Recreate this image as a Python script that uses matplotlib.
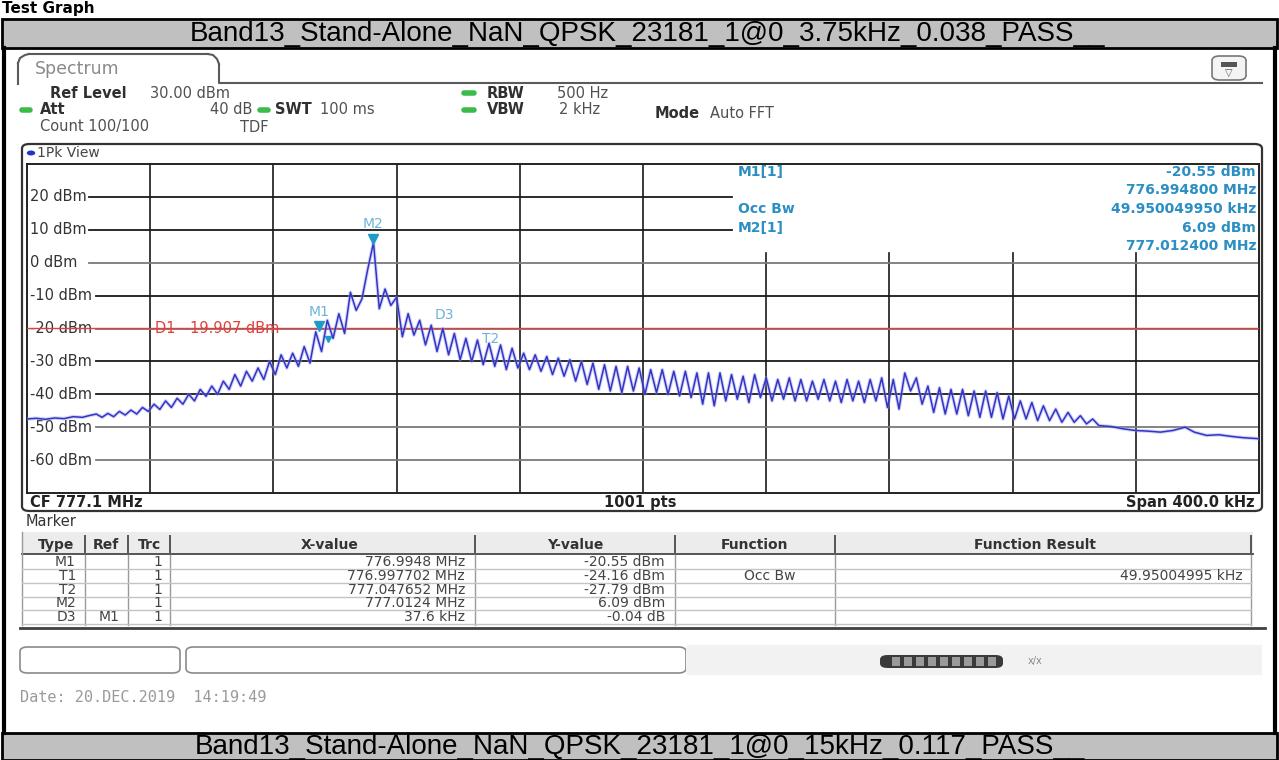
import numpy as np
import matplotlib.pyplot as plt
from matplotlib.patches import Rectangle, FancyBboxPatch, Circle
from matplotlib.lines import Line2D

W, H = 1279, 760

# ---- data ----
title_top = "Band13_Stand-Alone_NaN_QPSK_23181_1@0_3.75kHz_0.038_PASS__"
title_bottom = "Band13_Stand-Alone_NaN_QPSK_23181_1@0_15kHz_0.117_PASS__"

start_mhz = 776.9
stop_mhz = 777.3
ref_level = 30
bottom_level = -70
y_ticks = [20, 10, 0, -10, -20, -30, -40, -50, -60]
grid_khz = [40, 80, 120, 160, 200, 240, 280, 320, 360]
display_line = -19.907

# trace: sparse start, ripple part (half-period steps of 1.875 kHz), sparse end
left_khz = [0, 3, 6, 9, 12, 15, 18, 20.5]
left_dbm = [-47.5, -47.3, -47.6, -47.2, -47.4, -46.8, -47.0, -46.4]
ripple_start_khz = 22.5
ripple_step_khz = 1.875
ripple_dbm = [
    -46.0, -47.0, -45.8, -46.8, -45.2, -46.3, -44.8, -46.0, -44.0, -45.2,
    -43.0, -44.6, -42.0, -44.0, -41.2, -43.0, -40.0, -42.0, -38.5, -40.6,
    -37.5, -40.0, -36.0, -38.5, -34.0, -37.5, -33.0, -36.0, -32.0, -35.5,
    -30.0, -34.0, -28.0, -32.0, -27.5, -31.5, -25.5, -30.5, -21.0, -27.0,
    -17.5, -23.0, -15.5, -21.5, -9.0, -14.5, -11.0, -2.0, 6.1, -14.0,
    -8.0, -13.0, -10.5, -22.5, -15.5, -22.0, -17.5, -25.0, -19.0, -27.0,
    -20.0, -28.0, -21.5, -29.5, -23.0, -30.0, -23.5, -31.0, -24.5, -31.5,
    -25.0, -32.5, -26.0, -32.0, -27.5, -32.5, -28.0, -33.0, -28.5, -34.0,
    -29.0, -34.5, -29.5, -36.0, -30.0, -37.0, -30.5, -38.5, -31.0, -39.0,
    -31.5, -39.5, -31.5, -39.0, -32.0, -40.0, -32.5, -39.5, -32.5, -40.0,
    -33.0, -40.5, -33.0, -41.0, -33.5, -43.0, -33.5, -43.5, -33.5, -42.0,
    -34.0, -41.5, -34.5, -42.5, -34.0, -41.0, -35.0, -42.0, -35.5, -41.5,
    -35.0, -42.0, -35.5, -42.0, -36.0, -41.5, -35.5, -42.0, -36.0, -42.5,
    -35.5, -42.0, -36.0, -42.5, -35.5, -42.0, -35.0, -44.0, -35.5, -44.5,
    -33.5, -39.0, -35.0, -43.0, -37.5, -45.5, -38.0, -46.0, -38.5, -46.0,
    -38.5, -46.5, -39.0, -47.0, -39.0, -47.0, -39.5, -47.5, -40.5, -47.5,
    -42.0, -47.5, -42.5, -48.0, -43.5,
]
right_khz = [332, 334, 336, 338, 340, 342, 344, 346, 348, 352, 356, 360,
             364, 368, 372, 376, 379, 383, 387, 391, 395, 400]
right_dbm = [-48.0, -44.5, -48.5, -45.5, -48.5, -46.5, -49.0, -47.5, -49.5,
             -49.8, -50.5, -51.0, -51.2, -51.5, -51.0, -50.0, -51.5, -52.5,
             -52.3, -52.8, -53.2, -53.5]

marker_names = ["M1", "T1", "T2", "M2", "D3"]
marker_mhz = [776.9948, 776.997702, 777.047652, 777.0124, 777.0324]
marker_dbm = [-20.55, -24.16, -27.79, 6.09, -20.59]

table_type = ["M1", "T1", "T2", "M2", "D3"]
table_ref = ["", "", "", "", "M1"]
table_trc = ["1", "1", "1", "1", "1"]
table_x = ["776.9948 MHz", "776.997702 MHz", "777.047652 MHz", "777.0124 MHz", "37.6 kHz"]
table_y = ["-20.55 dBm", "-24.16 dBm", "-27.79 dBm", "6.09 dBm", "-0.04 dB"]
table_func = ["", "Occ Bw", "", "", ""]
table_result = ["", "49.95004995 kHz", "", "", ""]

info_left = ["M1[1]", "", "Occ Bw", "M2[1]", ""]
info_right = ["-20.55 dBm", "776.994800 MHz", "49.950049950 kHz", "6.09 dBm", "777.012400 MHz"]


def fx(x):
    return x / W


def fy(y):
    return 1 - y / H


def line(xs, ys, **kw):
    fig.add_artist(Line2D([fx(v) for v in xs], [fy(v) for v in ys],
                          transform=fig.transFigure, **kw))


def box(x0, y0, x1, y1, **kw):
    fig.add_artist(Rectangle((fx(x0), fy(y1)), (x1 - x0) / W, (y1 - y0) / H,
                             transform=fig.transFigure, **kw))


def rbox(x0, y0, x1, y1, **kw):
    fig.add_artist(FancyBboxPatch((fx(x0), fy(y1)), (x1 - x0) / W, (y1 - y0) / H,
                                  boxstyle="round,pad=0,rounding_size=0.006",
                                  transform=fig.transFigure, **kw))


def txt(x, y, s, **kw):
    kw.setdefault("va", "center")
    kw.setdefault("fontsize", 10.5)
    fig.text(fx(x), fy(y), s, **kw)


fig = plt.figure(figsize=(W / 100, H / 100), dpi=100)
fig.patch.set_facecolor("white")

# top / bottom report bars
txt(2, 1, "Test Graph", fontsize=11, fontweight="bold", va="top")
box(2, 19, 1277, 48, facecolor="#c0c0c0", edgecolor="black", lw=2)
txt(647, 34, title_top, ha="center", fontsize=20, family="Liberation Sans")
line([4, 4], [48, 733], color="black", lw=3)
line([1275, 1275], [48, 733], color="black", lw=3)
box(2, 733, 1277, 760, facecolor="#c0c0c0", edgecolor="black", lw=2)
txt(640, 747, title_bottom, ha="center", fontsize=20, family="Liberation Sans")

# spectrum tab
tab_col = "#5a5a5a"
line([18, 18], [84, 63], color=tab_col, lw=1.5)
line([18, 20, 25, 29], [63, 58, 55, 54], color=tab_col, lw=1.5)
line([29, 208], [54, 54], color=tab_col, lw=1.5)
line([208, 213, 217, 219], [54, 55, 59, 64], color=tab_col, lw=1.5)
line([219, 219, 1262], [64, 83, 83], color=tab_col, lw=1.5)
txt(35, 69, "Spectrum", color="#8a8a8a", fontsize=12.5)
rbox(1212, 56, 1246, 80, facecolor="#f4f4f4", edgecolor="#777777", lw=1.2)
box(1221, 62, 1237, 67, facecolor="#555555", edgecolor="none")
txt(1229, 73, "▽", ha="center", color="#555555", fontsize=7)

# setting rows
lab = dict(color="#303030", fontweight="bold", fontsize=10.5)
val = dict(color="#505050", fontsize=10.5)
green = dict(color="#3dbb4a", lw=4, solid_capstyle="round")
txt(50, 93, "Ref Level", **lab)
txt(150, 93, "30.00 dBm", **val)
line([464, 474], [93, 93], **green)
txt(487, 93, "RBW", **lab)
txt(557, 93, "500 Hz", **val)
line([22, 30], [110, 110], **green)
txt(40, 110, "Att", **lab)
txt(252, 110, "40 dB", ha="right", **val)
line([260, 268], [110, 110], **green)
txt(275, 110, "SWT", **lab)
txt(320, 110, "100 ms", **val)
line([464, 474], [110, 110], **green)
txt(487, 110, "VBW", **lab)
txt(600, 110, "2 kHz", ha="right", **val)
txt(655, 113, "Mode", **lab)
txt(710, 113, "Auto FFT", **val)
txt(40, 127, "Count 100/100", **val)
txt(240, 127, "TDF", **val)

# trace panel frame
rbox(22, 144, 1262, 511, facecolor="none", edgecolor="#333333", lw=1.6)
fig.add_artist(Circle((fx(31), fy(153)), 4.2 / W, transform=fig.transFigure,
                      facecolor="#1f35c8", edgecolor="none"))
txt(37, 153, "1Pk View", color="#444444", fontsize=10)

ax = fig.add_axes([fx(27), fy(493), (1259 - 27) / W, (493 - 164) / H])
ax.set_xlim(start_mhz, stop_mhz)
ax.set_ylim(bottom_level, ref_level)
ax.set_xticks([])
ax.set_yticks([])
for sp in ax.spines.values():
    sp.set_color("#222222")
    sp.set_linewidth(1.4)

info_cut = 3.0
for k in grid_khz:
    xm = start_mhz + k / 1000
    top = ref_level if k <= 200 else info_cut
    ax.plot([xm, xm], [bottom_level, top], color="#1a1a1a", lw=1.2, zorder=1)
for lv in y_ticks:
    label_end = start_mhz + (0.0225 if lv < 0 else 0.020)
    x_end = start_mhz + 0.229 if lv > 5 else stop_mhz
    col = "#1a1a1a" if lv in (20, 10, -10, -30, -40) else "#7a7a7a"
    ax.plot([label_end, x_end], [lv, lv], color=col, lw=1.3, zorder=1)
    ax.text(start_mhz + 0.001, lv, f"{lv} dBm", va="center", ha="left",
            fontsize=10.5, color="#333333", zorder=2)

ax.axhline(display_line, color="#e0403c", lw=1, zorder=3)
ax.text(start_mhz + 0.0415, display_line, "D1  -19.907 dBm", color="#e0403c",
        va="center", ha="left", fontsize=10.5, zorder=3)

trace_khz = np.concatenate([
    left_khz,
    ripple_start_khz + ripple_step_khz * np.arange(len(ripple_dbm)),
    right_khz,
])
trace_dbm = np.concatenate([left_dbm, ripple_dbm, right_dbm])
trace_mhz = start_mhz + trace_khz / 1000
ax.plot(trace_mhz, trace_dbm, color="#9aa0f0", lw=2.6, alpha=0.45, zorder=4)
ax.plot(trace_mhz, trace_dbm, color="#3434c4", lw=1.1, zorder=5)

# markers
mk_col = "#1e9cc8"
lb_col = "#6fb4d8"
for name, xm, lv in zip(marker_names, marker_mhz, marker_dbm):
    if name in ("M1", "M2"):
        ax.plot(xm, lv + 1.2, marker="v", color=mk_col, ms=7, zorder=6)
        ax.text(xm, lv + 3.5, name, color=lb_col, ha="center", va="bottom",
                fontsize=10, zorder=6)
    elif name == "T1":
        ax.plot(xm, lv + 1, marker="v", color=mk_col, ms=5, zorder=6)
    else:
        ax.text(xm, lv + 2.5, name, color=lb_col, ha="left", va="bottom",
                fontsize=10, zorder=6)

# marker info block
info_col = "#2b8fc4"
for i, (a, b) in enumerate(zip(info_left, info_right)):
    yy = 172 + i * 18.5
    if a:
        txt(738, yy, a, color=info_col, fontweight="bold", fontsize=10)
    txt(1256, yy, b, color=info_col, fontweight="bold", fontsize=10, ha="right")

# bottom bar of the trace panel
bb = dict(color="#222222", fontweight="bold", fontsize=10.5)
txt(30, 502, "CF 777.1 MHz", **bb)
txt(640, 502, "1001 pts", ha="center", **bb)
txt(1255, 502, "Span 400.0 kHz", ha="right", **bb)

# marker table
txt(26, 522, "Marker", color="#333333", fontsize=10.5)
box(22, 532, 1253, 554, facecolor="#ececec", edgecolor="none")
line([22, 1253], [554, 554], color="#555555", lw=1.4)
col_sep = [85, 128, 170, 475, 675, 835, 1251]
for xs in col_sep:
    line([xs, xs], [536, 552], color="#555555", lw=1.4)
    if xs < 1251:
        line([xs, xs], [555, 625], color="#9a9a9a", lw=1)
line([1251, 1251], [555, 625], color="#9a9a9a", lw=1)
line([22, 22], [532, 625], color="#9a9a9a", lw=1)
hd = dict(color="#333333", fontweight="bold", fontsize=10, ha="center")
txt(56, 545, "Type", **hd)
txt(106, 545, "Ref", **hd)
txt(149, 545, "Trc", **hd)
txt(330, 545, "X-value", **hd)
txt(575, 545, "Y-value", **hd)
txt(755, 545, "Function", **hd)
txt(1035, 545, "Function Result", **hd)
cell = dict(color="#444444", fontsize=10)
for i in range(len(table_type)):
    yy = 562 + i * 13.8
    line([22, 1251], [yy + 7, yy + 7], color="#c4c4c4", lw=1)
    txt(76, yy, table_type[i], ha="right", **cell)
    txt(120, yy, table_ref[i], ha="right", **cell)
    txt(162, yy, table_trc[i], ha="right", **cell)
    txt(465, yy, table_x[i], ha="right", **cell)
    txt(665, yy, table_y[i], ha="right", **cell)
    txt(770, yy, table_func[i], ha="center", **cell)
    txt(1243, yy, table_result[i], ha="right", **cell)
line([20, 1265], [628, 628], color="#404040", lw=2)

# status line
rbox(20, 647, 180, 673, facecolor="white", edgecolor="#8a8a8a", lw=1.2)
rbox(186, 647, 686, 673, facecolor="white", edgecolor="#8a8a8a", lw=1.2)
box(686, 645, 1262, 675, facecolor="#f2f2f2", edgecolor="none")
rbox(880, 655, 1003, 668, facecolor="#3a3a3a", edgecolor="none")
for xs in range(892, 1000, 12):
    box(xs, 657, xs + 8, 666, facecolor="#9a9a9a", edgecolor="none")
txt(1028, 661, "x/x", color="#8a8a8a", fontsize=7)
txt(20, 698, "Date: 20.DEC.2019  14:19:49", color="#9a9a9a", fontsize=11,
    family="DejaVu Sans Mono")

fig.savefig("out.png", dpi=100)
